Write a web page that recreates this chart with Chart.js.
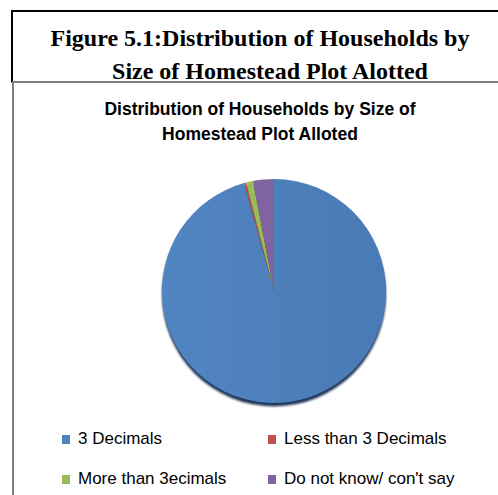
<!DOCTYPE html>
<html>
<head>
<meta charset="utf-8">
<script src="https://cdn.jsdelivr.net/npm/chart.js@4.4.1/dist/chart.umd.min.js"></script>
<style>
  html, body { margin: 0; padding: 0; background: #fff; }
  body { width: 498px; height: 495px; position: relative; overflow: hidden; }
  #fig-head {
    position: absolute; left: 11px; top: 10px; width: 520px; height: 69px;
    border-top: 2px solid #000; border-left: 2px solid #000; border-bottom: 2px solid #808080;
    overflow: hidden;
  }
  .head-line {
    position: absolute; width: 600px; text-align: center; white-space: nowrap;
    font-family: "Liberation Serif", "Times New Roman", serif; font-weight: bold;
    font-size: 24px; line-height: 26px; color: #000;
  }
  #chart-edge { position: absolute; left: 12px; top: 81px; width: 2px; height: 414px; background: #808080; }
  .chart-title {
    position: absolute; width: 500px; text-align: center; white-space: nowrap;
    font-family: "Liberation Sans", Arial, sans-serif; font-weight: bold;
    font-size: 17.5px; line-height: 20px; color: #000;
  }
  #pie-wrap { position: absolute; left: 142px; top: 159px; width: 264px; height: 264px; }
  .leg-item {
    position: absolute; white-space: nowrap;
    font-family: "Liberation Sans", Arial, sans-serif; font-size: 17px; line-height: 20px; color: #000;
  }
  .leg-box { display: inline-block; width: 8px; height: 9px; margin-right: 8px; vertical-align: 0px; }
</style>
</head>
<body>
<div id="fig-head">
  <div class="head-line" style="left:-53px; top:13px;">Figure 5.1:Distribution of Households by</div>
  <div class="head-line" style="left:-43px; top:46px;">Size of Homestead Plot Alotted</div>
</div>
<div id="chart-edge"></div>
<div class="chart-title" style="left:10px; top:99px;">Distribution of Households by Size of</div>
<div class="chart-title" style="left:10px; top:124px;">Homestead Plot Alloted</div>
<div id="pie-wrap"><canvas id="pie" width="264" height="264"></canvas></div>
<div id="legend"></div>

<script>
// categories and shares (%)
const categories = ['3 Decimals', 'Less than 3 Decimals', 'More than 3ecimals', "Do not know/ con't say"];
const shares = [95.7, 0.3, 1.0, 3.0];
const sliceColors = ['#4F81BD', '#C0504D', '#9BBB59', '#8064A2'];

// legend slots, two columns
const legendX = [62, 268];
const legendY = [429, 469];

// dark rim under the pie
const pieShadow = {
    id: 'pieShadow',
    beforeDatasetsDraw(chart) {
        const arc = chart.getDatasetMeta(0).data[0];
        if (!arc) return;
        const ctx = chart.ctx;
        ctx.save();
        ctx.filter = 'blur(1px)';
        ctx.fillStyle = '#1F3559';
        ctx.beginPath();
        ctx.arc(arc.x, arc.y + 3.5, arc.outerRadius, 0, Math.PI * 2);
        ctx.fill();
        ctx.restore();
    }
};

function blueFill(context) {
    const chart = context.chart;
    const area = chart.chartArea;
    if (!area) return sliceColors[0];
    const g = chart.ctx.createLinearGradient(area.left, 0, area.right, 0);
    g.addColorStop(0, '#5185C2');
    g.addColorStop(1, '#4A7AB5');
    return g;
}

new Chart(document.getElementById('pie'), {
    type: 'pie',
    data: {
        labels: categories,
        datasets: [{
            data: shares,
            backgroundColor: (ctx) => ctx.dataIndex === 0 ? blueFill(ctx) : sliceColors[ctx.dataIndex],
            borderWidth: 0
        }]
    },
    options: {
        responsive: false,
        animation: false,
        layout: { padding: 20 },
        plugins: {
            legend: { display: false },
            title: { display: false },
            tooltip: { enabled: false }
        }
    },
    plugins: [pieShadow]
});

// legend built from the same arrays
const legend = document.getElementById('legend');
categories.forEach((name, i) => {
    const item = document.createElement('div');
    item.className = 'leg-item';
    item.style.left = legendX[i % 2] + 'px';
    item.style.top = legendY[Math.floor(i / 2)] + 'px';
    item.innerHTML = '<span class="leg-box" style="background:' + sliceColors[i] + '"></span>' + name;
    legend.appendChild(item);
});
</script>
</body>
</html>
